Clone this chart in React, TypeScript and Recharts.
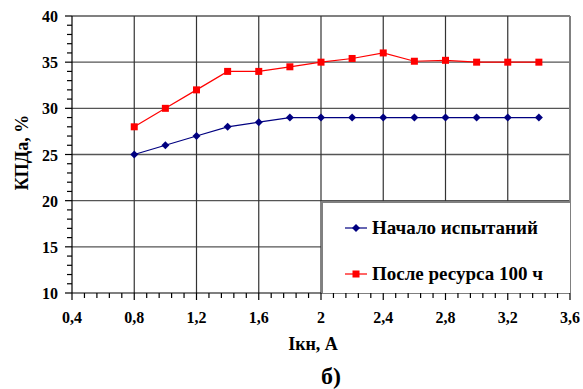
import React from 'react';
import { LineChart, Line, XAxis, YAxis, ReferenceLine, Legend } from 'recharts';

const currents = [0.8, 1.0, 1.2, 1.4, 1.6, 1.8, 2.0, 2.2, 2.4, 2.6, 2.8, 3.0, 3.2, 3.4];
const startValues = [25, 26, 27, 28, 28.5, 29, 29, 29, 29, 29, 29, 29, 29, 29];
const afterValues = [28, 30, 32, 34, 34, 34.5, 35, 35.4, 36, 35.1, 35.2, 35, 35, 35];

const xMajorTicks = [0.4, 0.8, 1.2, 1.6, 2.0, 2.4, 2.8, 3.2, 3.6];
const yMajorTicks = [10, 15, 20, 25, 30, 35, 40];
const xMinorStep = 0.08;
const yMinorStep = 1;

const seriesNames = ['Начало испытаний', 'После ресурса 100 ч'];
const xTitle = 'Iкн, А';
const yTitle = 'КПДа, %';
const caption = 'б)';

const data = currents.map((x, i) => ({ x, start: startValues[i], after: afterValues[i] }));

const xAllTicks: number[] = [];
for (let i = 0; i <= Math.round((3.6 - 0.4) / xMinorStep); i++) xAllTicks.push(+(0.4 + i * xMinorStep).toFixed(2));
const yAllTicks: number[] = [];
for (let i = 0; i <= 30; i++) yAllTicks.push(10 + i * yMinorStep);

const FONT = "'Liberation Serif', 'Tinos', 'Noto Serif', 'Times', 'DejaVu Serif', serif";
const BLUE = '#000080';
const RED = '#FF0000';

const isMajorX = (v: number) => xMajorTicks.some((m) => Math.abs(m - v) < 1e-6);
const isMajorY = (v: number) => yMajorTicks.some((m) => Math.abs(m - v) < 1e-6);

const XTick = (props: any) => {
  const { x, y, payload } = props;
  const v = payload.value;
  const major = isMajorX(v);
  return (
    <g>
      <line x1={x} x2={x} y1={y} y2={y + (major ? 7 : 5)} stroke="#000" strokeWidth={1.2} />
      {major && (
        <text x={x} y={y + 30} textAnchor="middle" style={{ fontFamily: FONT, fontWeight: 700, fontSize: 16 }} fill="#000">
          {String(v).replace('.', ',')}
        </text>
      )}
    </g>
  );
};

const YTick = (props: any) => {
  const { x, y, payload } = props;
  const v = payload.value;
  const major = isMajorY(v);
  return (
    <g>
      <line x1={x - (major ? 7 : 5)} x2={x} y1={y} y2={y} stroke="#000" strokeWidth={1.2} />
      {major && (
        <text x={x - 14} y={y + 6} textAnchor="end" style={{ fontFamily: FONT, fontWeight: 700, fontSize: 16 }} fill="#000">
          {v}
        </text>
      )}
    </g>
  );
};

const RedSquare = (p: any) => (
  <rect key={`r${p.index}`} x={p.cx - 3.5} y={p.cy - 3.5} width={7} height={7} fill={RED} />
);
const BlueDiamond = (p: any) => (
  <polygon
    key={`b${p.index}`}
    points={`${p.cx},${p.cy - 4} ${p.cx + 4},${p.cy} ${p.cx},${p.cy + 4} ${p.cx - 4},${p.cy}`}
    fill={BLUE}
  />
);

const LegendContent = () => {
  const rows = [
    { name: seriesNames[0], color: BLUE, marker: 'diamond' },
    { name: seriesNames[1], color: RED, marker: 'square' },
  ];
  return (
    <div style={{ position: 'relative', width: '100%', height: '100%' }}>
      {rows.map((r, i) => (
        <div key={r.name} style={{ position: 'absolute', left: 21, top: 14 + i * 46, height: 22, display: 'flex', alignItems: 'center' }}>
          <svg width={24} height={12} style={{ display: 'block' }}>
            <line x1={1} x2={23} y1={6} y2={6} stroke={r.color} strokeWidth={1.2} />
            {r.marker === 'diamond' ? (
              <polygon points="12,2 16,6 12,10 8,6" fill={r.color} />
            ) : (
              <rect x={8.5} y={2.5} width={7} height={7} fill={r.color} />
            )}
          </svg>
          <span style={{ marginLeft: 4, fontFamily: FONT, fontWeight: 700, fontSize: 19, color: '#000', whiteSpace: 'nowrap' }}>
            {r.name}
          </span>
        </div>
      ))}
    </div>
  );
};

export default function App() {
  return (
    <div style={{ position: 'absolute', left: 0, top: 0, width: 583, height: 389, background: '#fff' }}>
      <LineChart width={583} height={389} data={data} margin={{ top: 16, right: 13, left: 0, bottom: 56 }}>
        <XAxis
          dataKey="x"
          type="number"
          domain={[0.4, 3.6]}
          ticks={xAllTicks}
          interval={0}
          tick={<XTick />}
          tickLine={false}
          tickSize={0}
          tickMargin={0}
          height={40}
          axisLine={{ stroke: '#000', strokeWidth: 1.2 }}
          allowDataOverflow
          label={{
            content: (p: any) => {
              const vb = p.viewBox || { x: 72, y: 293, width: 498 };
              const cx = vb.x + vb.width / 2;
              return (
                <g>
                  <text x={cx - 8} y={350} textAnchor="middle" style={{ fontFamily: FONT, fontWeight: 700, fontSize: 18 }} fill="#000">
                    {xTitle}
                  </text>
                  <text x={cx + 10} y={384} textAnchor="middle" style={{ fontFamily: FONT, fontWeight: 700, fontSize: 24 }} fill="#000">
                    {caption}
                  </text>
                </g>
              );
            },
          }}
        />
        <YAxis
          type="number"
          domain={[10, 40]}
          ticks={yAllTicks}
          interval={0}
          tick={<YTick />}
          tickLine={false}
          tickSize={0}
          tickMargin={0}
          width={72}
          axisLine={{ stroke: '#000', strokeWidth: 1.2 }}
          allowDataOverflow
          label={{
            content: (p: any) => {
              const vb = p.viewBox || { x: 0, y: 16, height: 277 };
              const cy = vb.y + vb.height / 2 - 2;
              return (
                <text
                  x={28}
                  y={cy}
                  transform={`rotate(-90 28 ${cy})`}
                  textAnchor="middle"
                  style={{ fontFamily: FONT, fontWeight: 700, fontSize: 18 }}
                  fill="#000"
                >
                  {yTitle}
                </text>
              );
            },
          }}
        />
        {yMajorTicks.slice(1).map((v) => (
          <ReferenceLine key={`hy${v}`} y={v} stroke={v === 40 ? '#808080' : '#555'} strokeWidth={v === 40 ? 2 : 1.3} />
        ))}
        {xMajorTicks.slice(1).map((v) => (
          <ReferenceLine key={`vx${v}`} x={v} stroke={v === 3.6 ? '#808080' : '#333'} strokeWidth={v === 3.6 ? 2 : 1.2} />
        ))}
        <Line
          dataKey="start"
          name={seriesNames[0]}
          stroke={BLUE}
          strokeWidth={1.2}
          dot={BlueDiamond}
          activeDot={false}
          isAnimationActive={false}
        />
        <Line
          dataKey="after"
          name={seriesNames[1]}
          stroke={RED}
          strokeWidth={1.2}
          dot={RedSquare}
          activeDot={false}
          isAnimationActive={false}
        />
        <Legend
          layout="horizontal"
          verticalAlign="middle"
          align="center"
          content={<LegendContent />}
          wrapperStyle={{
            position: 'absolute',
            left: 321,
            top: 201,
            width: 249,
            height: 92,
            border: '2px solid #808080',
            borderRight: 'none',
            borderBottom: 'none',
            background: '#fff',
            boxSizing: 'border-box',
          }}
        />
      </LineChart>
    </div>
  );
}
